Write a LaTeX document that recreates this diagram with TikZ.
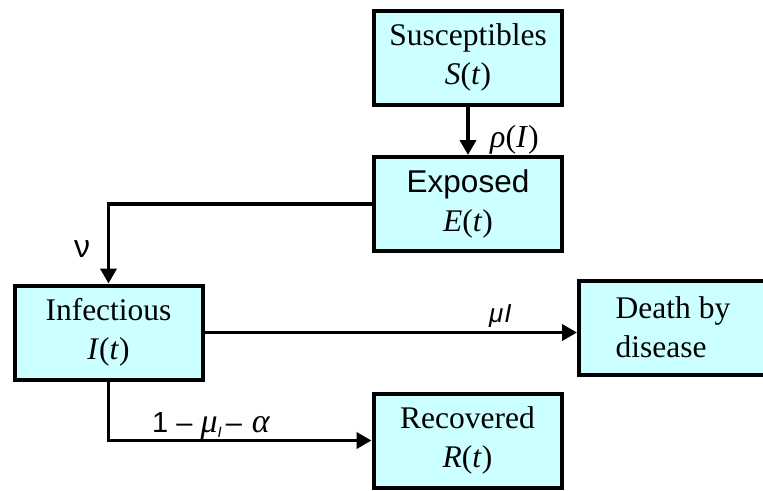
\documentclass[tikz,border=0pt]{standalone}
\usepackage{fontspec}
\setmainfont{Liberation Serif}
\setsansfont{Liberation Sans}
\usetikzlibrary{arrows.meta}
\definecolor{boxfill}{HTML}{CCFFFF}
\tikzset{
  comp/.style={draw=black, line width=4pt, fill=boxfill, rectangle, inner sep=0pt,
    minimum width=188pt, minimum height=94pt, align=center,
    font=\fontsize{31.5}{39}\selectfont},
  flow/.style={line width=3.8pt, -{Triangle[length=15pt,width=16pt]}},
  lbl/.style={inner sep=0pt, anchor=base west, font=\sffamily\fontsize{29}{30}\selectfont}
}
\newcommand{\grk}[1]{{\rmfamily\itshape\fontsize{34}{36}\selectfont #1}}
\begin{document}
\begin{tikzpicture}[x=1pt,y=-1pt]
\clip (0,0) rectangle (763,490);
\fill[white] (0,0) rectangle (763,490);
\node[comp] (S) at (468,57.5) {Susceptibles\\\textit{S}(\textit{t})};
\node[comp] (E) at (468,204) {\textsf{Exposed}\\\textit{E}(\textit{t})};
\node[comp] (I) at (108.5,332.5) {Infectious\\\textit{I}(\textit{t})};
\node[comp, align=left] (D) at (673,327.5) {Death by\\disease};
\node[comp] (R) at (467.5,440.5) {Recovered\\\textit{R}(\textit{t})};
\draw[flow] (S.south) -- (E.north);
\draw[flow] (E.west) -| (I.north);
\draw[flow] (I.east) -- (I.east -| D.west);
\draw[flow] (I.south) |- (R.west);
\node[lbl, font=\rmfamily\fontsize{32}{34}\selectfont] (rho) at (490,147) {\textit{ρ}(\textit{I})};
\node[lbl, font=\sffamily\fontsize{32}{34}\selectfont] (nu) at (74,257) {ν};
\node[lbl, font=\sffamily\itshape\fontsize{26}{28}\selectfont] (mu) at (489,322) {μ\kern1ptI};
\node[lbl] (rec) at (152,432) {1 – \grk{μ}\raisebox{-5pt}{\fontsize{15}{16}\selectfont\itshape I}\kern4pt– \kern2pt\grk{α}};
\end{tikzpicture}
\end{document}
